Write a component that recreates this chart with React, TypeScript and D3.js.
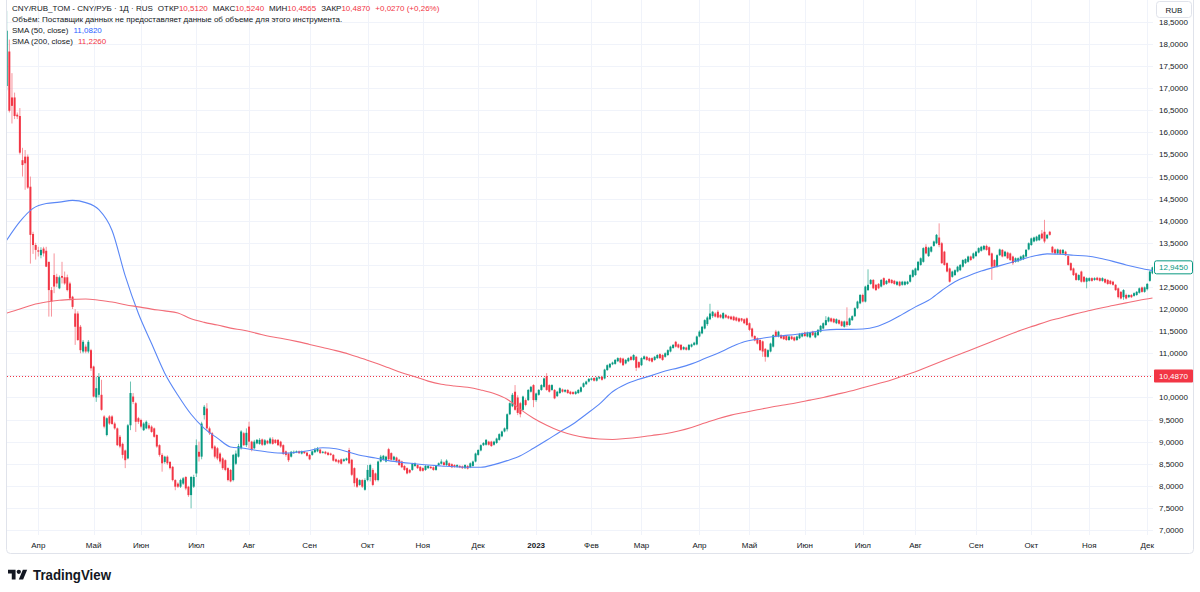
import React from "react";
import * as d3 from "d3";

// ---- Candles by month: [open, high, low, close] ----
const m2203 = [[17.05,18.75,16.95,18.3],[17.83,18.1,16.45,16.49],[16.79,17.34,16.2,16.6],[16.79,16.9,16.3,16.37],[16.4,16.45,16.3,16.36],[16.37,16.55,15.5,15.54],[15.37,15.65,15.0,15.26],[15.45,15.6,14.7,15.3],[15.45,15.5,14.72,14.75],[14.77,15.0,13.03,13.68],[13.7,13.75,13.25,13.45],[13.45,13.5,13.12,13.34]];
const m2204 = [[13.33,13.41,13.19,13.3],[13.22,13.4,13.15,13.34],[13.37,13.41,13.19,13.26],[13.32,13.41,12.95,12.96],[13.07,13.07,11.83,12.43],[12.43,12.5,11.83,12.17],[12.77,13.26,12.36,12.51],[12.73,12.8,12.5,12.58],[12.47,12.76,12.45,12.72],[12.75,13.07,12.58,12.71],[12.72,12.85,12.55,12.58],[12.72,12.78,12.4,12.43],[12.58,12.62,12.2,12.24],[12.28,12.3,12.0,12.05],[11.9,12.0,11.19,11.6],[11.9,11.95,11.28,11.3],[11.6,11.64,11.0,11.07],[11.04,11.3,11.0,11.26],[11.15,11.2,11.0,11.04],[11.04,11.3,11.0,11.26],[11.07,11.1,10.6,10.66]];
const m2205 = [[10.7,10.72,10.0,10.02],[10.0,10.47,9.9,10.21],[10.06,10.55,10.0,10.47],[10.06,10.4,9.7,9.72],[9.57,9.6,9.3,9.34],[9.15,9.55,9.12,9.53],[9.57,9.6,9.38,9.41],[9.57,9.6,9.38,9.4],[9.41,9.45,9.27,9.3],[9.3,9.32,8.9,8.92],[9.11,9.15,8.85,8.89],[8.95,8.98,8.62,8.7],[8.8,8.82,8.4,8.58],[8.62,9.4,8.6,9.37],[9.37,10.36,9.26,10.1],[10.02,10.1,9.85,9.9],[9.87,9.9,9.22,9.45],[9.53,9.56,9.4,9.45]];
const m2206 = [[9.49,9.52,9.3,9.34],[9.26,9.44,9.24,9.41],[9.3,9.48,9.28,9.45],[9.37,9.42,9.27,9.3],[9.34,9.37,9.2,9.22],[9.3,9.32,9.09,9.11],[9.15,9.17,8.86,8.89],[8.92,8.94,8.66,8.7],[8.7,8.74,8.32,8.51],[8.54,8.68,8.5,8.66],[8.66,8.69,8.47,8.51],[8.54,8.56,8.37,8.4],[8.43,8.45,8.1,8.13],[8.13,8.15,7.9,7.98],[8.05,8.08,7.95,7.98],[7.98,8.16,7.95,8.13],[8.05,8.2,8.02,8.17],[8.2,8.22,7.9,7.94],[7.98,8.0,7.75,7.79],[7.79,8.22,7.49,8.2],[7.98,8.25,7.95,8.2]];
const m2207 = [[8.28,9.05,8.2,8.92],[8.77,9.0,8.55,8.66],[8.66,9.45,8.6,9.41],[9.6,9.83,9.5,9.79],[9.75,9.87,9.27,9.3],[9.3,9.34,9.15,9.19],[9.19,9.22,8.82,8.85],[8.89,8.92,8.62,8.66],[8.85,8.88,8.58,8.62],[8.73,8.76,8.5,8.55],[8.62,8.65,8.36,8.4],[8.58,8.6,8.33,8.36],[8.4,8.42,8.1,8.13],[8.36,8.38,8.08,8.1],[8.13,8.72,8.1,8.7],[8.5,8.8,8.47,8.73],[8.66,8.95,8.64,8.9],[8.85,9.26,8.82,9.23],[9.19,9.22,8.9,8.92],[8.92,9.3,8.88,9.2]];
const m2208 = [[9.34,9.45,8.85,9.0],[9.0,9.02,8.78,8.81],[8.85,9.04,8.83,9.0],[8.96,9.06,8.94,9.04],[8.95,9.08,8.93,9.04],[9.05,9.07,8.9,8.93],[8.93,9.06,8.91,9.03],[9.02,9.04,8.94,8.96],[8.96,9.1,8.94,9.07],[9.05,9.1,8.93,8.95],[9.04,9.06,8.95,8.97],[9.04,9.06,8.9,8.92],[9.0,9.02,8.86,8.89],[8.92,8.94,8.7,8.72],[8.78,8.8,8.66,8.7],[8.73,8.75,8.54,8.58],[8.66,8.79,8.64,8.77],[8.74,8.8,8.72,8.77],[8.76,8.8,8.74,8.78],[8.78,8.8,8.72,8.74],[8.73,8.8,8.71,8.78],[8.78,8.79,8.72,8.74],[8.75,8.77,8.66,8.68]];
const m2209 = [[8.7,8.72,8.58,8.6],[8.7,8.8,8.68,8.78],[8.76,8.86,8.74,8.82],[8.78,8.88,8.76,8.84],[8.82,8.84,8.72,8.74],[8.75,8.79,8.73,8.77],[8.77,8.79,8.71,8.73],[8.75,8.77,8.68,8.7],[8.73,8.75,8.68,8.7],[8.7,8.72,8.55,8.57],[8.6,8.62,8.53,8.55],[8.58,8.6,8.5,8.53],[8.6,8.62,8.48,8.5],[8.56,8.62,8.54,8.6],[8.58,8.64,8.56,8.62],[8.81,8.86,8.49,8.51],[8.59,8.61,8.22,8.25],[8.4,8.42,7.98,8.06],[8.17,8.19,7.95,7.98],[8.02,8.15,8.0,8.13],[8.13,8.15,7.95,7.98],[7.91,8.17,7.89,8.13]];
const m2210 = [[8.13,8.47,8.1,8.36],[8.2,8.5,8.1,8.47],[8.36,8.4,7.99,8.02],[8.28,8.3,8.1,8.13],[8.13,8.57,8.1,8.55],[8.55,8.7,8.53,8.66],[8.59,8.7,8.57,8.68],[8.55,8.68,8.53,8.66],[8.83,8.86,8.58,8.6],[8.74,8.76,8.57,8.59],[8.59,8.68,8.57,8.66],[8.64,8.66,8.53,8.55],[8.59,8.61,8.45,8.47],[8.55,8.57,8.4,8.42],[8.45,8.47,8.34,8.36],[8.4,8.42,8.26,8.28],[8.36,8.38,8.28,8.3],[8.36,8.52,8.34,8.5],[8.45,8.53,8.43,8.51],[8.47,8.49,8.38,8.4],[8.43,8.45,8.32,8.34]];
const m2211 = [[8.4,8.42,8.32,8.34],[8.36,8.47,8.34,8.45],[8.4,8.47,8.38,8.45],[8.43,8.45,8.38,8.4],[8.42,8.44,8.34,8.36],[8.36,8.47,8.34,8.45],[8.47,8.53,8.45,8.51],[8.5,8.6,8.48,8.55],[8.53,8.55,8.45,8.47],[8.47,8.6,8.45,8.57],[8.51,8.53,8.43,8.45],[8.49,8.51,8.4,8.42],[8.47,8.49,8.41,8.43],[8.43,8.49,8.41,8.47],[8.45,8.47,8.4,8.42],[8.44,8.46,8.38,8.4],[8.4,8.49,8.38,8.47],[8.45,8.47,8.37,8.39],[8.42,8.53,8.4,8.51],[8.45,8.57,8.43,8.55],[8.55,8.75,8.53,8.73]];
const m2212 = [[8.7,8.83,8.68,8.81],[8.8,8.94,8.78,8.92],[8.92,8.99,8.9,8.97],[8.93,9.06,8.91,9.04],[9.0,9.02,8.91,8.93],[9.0,9.02,8.88,8.9],[8.93,9.02,8.91,9.0],[8.97,9.09,8.95,9.07],[9.04,9.19,9.02,9.17],[9.12,9.25,9.1,9.23],[9.23,9.32,9.21,9.3],[9.28,9.64,9.23,9.62],[9.62,9.89,9.6,9.87],[9.8,10.1,9.78,10.06],[10.13,10.28,9.7,9.72],[10.0,10.05,9.6,9.65],[9.87,9.9,9.55,9.62],[9.72,10.04,9.7,10.02],[9.94,9.98,9.8,9.83],[9.94,10.19,9.92,10.17],[10.13,10.26,10.11,10.24],[10.28,10.3,9.78,9.94]];
const m2301 = [[9.94,10.11,9.9,10.09],[10.06,10.19,10.04,10.17],[10.17,10.3,10.15,10.28],[10.24,10.45,10.22,10.43],[10.48,10.55,10.15,10.17],[10.28,10.3,10.11,10.13],[10.17,10.3,10.15,10.28],[10.17,10.19,9.96,9.98],[10.03,10.15,10.01,10.13],[10.1,10.23,10.08,10.21],[10.18,10.2,10.11,10.13],[10.13,10.19,10.11,10.17],[10.17,10.19,10.08,10.1],[10.13,10.15,10.06,10.08],[10.12,10.14,10.06,10.08],[10.08,10.15,10.06,10.13],[10.1,10.19,10.08,10.17],[10.13,10.25,10.11,10.23],[10.24,10.34,10.22,10.32],[10.3,10.38,10.28,10.36],[10.36,10.44,10.34,10.42]];
const m2302 = [[10.4,10.45,10.38,10.43],[10.44,10.46,10.36,10.38],[10.38,10.47,10.36,10.45],[10.43,10.48,10.41,10.46],[10.47,10.49,10.38,10.4],[10.43,10.65,10.41,10.63],[10.62,10.75,10.6,10.73],[10.68,10.78,10.66,10.76],[10.75,10.81,10.73,10.79],[10.76,10.87,10.74,10.85],[10.82,10.91,10.8,10.89],[10.89,10.91,10.77,10.79],[10.88,10.9,10.71,10.73],[10.77,10.87,10.75,10.85],[10.82,10.91,10.8,10.89],[10.92,10.94,10.83,10.85],[10.85,10.98,10.83,10.96],[10.92,10.94,10.6,10.67],[10.8,10.82,10.66,10.68]];
const m2303 = [[10.73,10.91,10.71,10.89],[10.87,10.95,10.85,10.93],[10.92,10.94,10.83,10.85],[10.89,10.91,10.81,10.83],[10.89,10.91,10.79,10.81],[10.85,10.94,10.83,10.92],[10.89,10.98,10.87,10.96],[10.98,11.0,10.87,10.89],[10.96,10.98,10.83,10.85],[10.92,11.02,10.9,11.0],[10.96,11.09,10.94,11.07],[11.04,11.17,11.02,11.15],[11.12,11.21,11.1,11.19],[11.26,11.28,11.13,11.15],[11.2,11.22,11.11,11.13],[11.19,11.21,11.06,11.08],[11.09,11.16,11.07,11.14],[11.13,11.15,11.06,11.08],[11.08,11.21,11.06,11.19],[11.15,11.22,11.13,11.2],[11.19,11.26,11.17,11.24],[11.2,11.4,11.18,11.38]];
const m2304 = [[11.38,11.52,11.36,11.49],[11.45,11.62,11.43,11.6],[11.56,11.77,11.54,11.75],[11.66,11.84,11.62,11.81],[11.77,12.12,11.75,11.9],[11.84,11.96,11.8,11.94],[11.9,11.93,11.81,11.83],[11.94,11.98,11.79,11.81],[11.87,11.89,11.79,11.81],[11.79,11.93,11.77,11.91],[11.87,11.89,11.79,11.81],[11.84,11.86,11.77,11.79],[11.83,11.85,11.75,11.77],[11.83,11.85,11.73,11.75],[11.81,11.83,11.72,11.74],[11.79,11.81,11.7,11.72],[11.79,11.8,11.71,11.74],[11.77,11.79,11.66,11.68],[11.79,11.81,11.62,11.64]];
const m2305 = [[11.68,11.7,11.5,11.53],[11.56,11.58,11.34,11.38],[11.39,11.41,11.27,11.29],[11.34,11.36,11.2,11.22],[11.3,11.32,11.05,11.07],[11.27,11.29,10.92,11.04],[11.1,11.12,10.81,10.92],[10.92,11.09,10.9,11.07],[11.04,11.24,11.02,11.22],[11.15,11.43,11.13,11.41],[11.49,11.53,11.36,11.38],[11.38,11.51,11.36,11.49],[11.41,11.43,11.32,11.34],[11.39,11.41,11.3,11.32],[11.39,11.41,11.28,11.3],[11.3,11.4,11.28,11.38],[11.38,11.4,11.3,11.32],[11.36,11.38,11.27,11.29],[11.3,11.4,11.28,11.38],[11.34,11.46,11.32,11.44],[11.38,11.47,11.36,11.45]];
const m2306 = [[11.47,11.49,11.37,11.39],[11.38,11.49,11.36,11.47],[11.36,11.49,11.34,11.47],[11.49,11.51,11.39,11.41],[11.36,11.49,11.34,11.47],[11.41,11.55,11.39,11.53],[11.49,11.64,11.47,11.62],[11.56,11.7,11.54,11.68],[11.64,11.84,11.62,11.75],[11.72,11.83,11.7,11.81],[11.79,11.81,11.7,11.72],[11.78,11.8,11.68,11.7],[11.68,11.79,11.66,11.77],[11.75,11.77,11.65,11.67],[11.72,11.74,11.6,11.62],[11.6,11.74,11.58,11.72],[11.72,12.04,11.6,11.64],[11.64,11.81,11.62,11.79],[11.75,11.86,11.73,11.84],[11.84,12.04,11.82,12.02],[12.02,12.19,12.0,12.17],[12.13,12.34,12.11,12.32]];
const m2307 = [[12.32,12.35,12.15,12.17],[12.17,12.53,12.15,12.51],[12.43,12.9,12.41,12.55],[12.57,12.68,12.55,12.66],[12.66,12.68,12.45,12.47],[12.55,12.57,12.41,12.43],[12.57,12.59,12.45,12.47],[12.51,12.68,12.49,12.66],[12.7,12.72,12.53,12.55],[12.57,12.66,12.55,12.64],[12.68,12.7,12.58,12.6],[12.66,12.68,12.57,12.59],[12.64,12.66,12.55,12.57],[12.55,12.64,12.53,12.62],[12.62,12.64,12.51,12.53],[12.55,12.64,12.53,12.62],[12.55,12.64,12.53,12.62],[12.57,12.64,12.55,12.62],[12.62,12.79,12.6,12.77],[12.73,12.9,12.71,12.88]];
const m2308 = [[12.77,12.94,12.75,12.92],[12.88,13.09,12.86,13.07],[13.0,13.17,12.98,13.15],[13.07,13.4,13.05,13.38],[13.41,13.47,13.24,13.26],[13.2,13.41,13.18,13.39],[13.3,13.43,13.28,13.41],[13.43,13.55,13.41,13.53],[13.49,13.7,13.47,13.68],[13.62,13.94,13.4,13.45],[13.49,13.52,13.02,13.04],[13.3,13.32,12.98,13.0],[13.04,13.06,12.83,12.85],[12.92,12.94,12.6,12.62],[12.73,12.87,12.71,12.85],[12.77,12.9,12.75,12.88],[12.85,12.98,12.83,12.96],[12.88,13.02,12.86,13.0],[12.96,13.13,12.94,13.11],[13.04,13.15,13.02,13.13],[13.07,13.21,13.05,13.19],[13.19,13.21,13.09,13.11],[13.15,13.28,13.13,13.26]];
const m2309 = [[13.2,13.32,13.18,13.3],[13.28,13.4,13.26,13.38],[13.32,13.43,13.3,13.41],[13.35,13.45,13.33,13.43],[13.43,13.46,13.32,13.34],[13.4,13.42,13.2,13.22],[13.26,13.28,12.66,12.96],[13.11,13.13,12.94,12.96],[12.96,13.24,12.94,13.22],[13.22,13.37,13.2,13.35],[13.34,13.36,13.17,13.19],[13.2,13.32,13.18,13.3],[13.28,13.3,13.13,13.15],[13.26,13.28,13.09,13.11],[13.19,13.21,13.0,13.04],[13.07,13.17,13.05,13.15],[13.08,13.17,13.06,13.15],[13.11,13.21,13.09,13.19],[13.13,13.24,13.11,13.22],[13.19,13.36,13.17,13.34],[13.35,13.51,13.33,13.49]];
const m2310 = [[13.45,13.62,13.43,13.6],[13.53,13.64,13.51,13.62],[13.55,13.66,13.53,13.64],[13.56,13.7,13.54,13.68],[13.71,13.79,13.58,13.6],[13.75,14.02,13.49,13.53],[13.6,13.7,13.58,13.68],[13.75,13.77,13.66,13.68],[13.41,13.43,13.26,13.28],[13.35,13.37,13.24,13.26],[13.26,13.37,13.24,13.35],[13.34,13.36,13.23,13.25],[13.26,13.36,13.24,13.34],[13.3,13.32,13.2,13.22],[13.2,13.22,12.98,13.0],[13.04,13.06,12.86,12.88],[12.92,12.94,12.75,12.77],[12.81,12.83,12.64,12.66],[12.66,12.79,12.64,12.77],[12.85,12.87,12.6,12.62],[12.73,12.75,12.6,12.62],[12.62,12.72,12.47,12.7]];
const m2311 = [[12.64,12.72,12.62,12.7],[12.7,12.72,12.62,12.64],[12.66,12.72,12.64,12.7],[12.71,12.73,12.64,12.66],[12.7,12.72,12.62,12.64],[12.64,12.72,12.62,12.7],[12.68,12.7,12.58,12.6],[12.66,12.68,12.55,12.57],[12.64,12.66,12.55,12.57],[12.62,12.64,12.53,12.55],[12.55,12.57,12.41,12.43],[12.47,12.49,12.24,12.27],[12.39,12.41,12.22,12.24],[12.27,12.45,12.21,12.43],[12.32,12.35,12.22,12.24],[12.27,12.33,12.25,12.32],[12.32,12.34,12.25,12.27],[12.3,12.38,12.28,12.36],[12.32,12.41,12.3,12.39],[12.37,12.49,12.35,12.47],[12.49,12.51,12.37,12.39],[12.39,12.51,12.37,12.49]];
const m2312 = [[12.45,12.59,12.42,12.57],[12.64,12.87,12.62,12.85],[12.81,12.96,12.79,12.945]];

const months = [m2203, m2204, m2205, m2206, m2207, m2208, m2209, m2210, m2211, m2212, m2301, m2302, m2303, m2304, m2305, m2306, m2307, m2308, m2309, m2310, m2311, m2312];
const monthLabels = ["Апр","Май","Июн","Июл","Авг","Сен","Окт","Ноя","Дек","2023","Фев","Мар","Апр","Май","Июн","Июл","Авг","Сен","Окт","Ноя","Дек"];

// SMA values read every 5th bar (bar 0, 5, 10, ... 435)
const sma50 = [13.56,13.98,14.28,14.39,14.42,14.46,14.41,14.25,13.78,12.75,11.9,11.22,10.55,10.05,9.62,9.3,9.08,8.88,8.85,8.8,8.76,8.74,8.76,8.8,8.86,8.84,8.76,8.68,8.63,8.57,8.53,8.5,8.47,8.45,8.43,8.42,8.42,8.48,8.57,8.68,8.85,9.03,9.22,9.4,9.62,9.85,10.13,10.3,10.41,10.5,10.6,10.67,10.76,10.88,11.0,11.14,11.26,11.32,11.37,11.4,11.43,11.47,11.52,11.54,11.54,11.55,11.6,11.72,11.88,12.05,12.2,12.42,12.62,12.75,12.86,12.95,13.03,13.12,13.2,13.25,13.24,13.22,13.2,13.15,13.08,13.0,12.93,12.87];
const sma200 = [11.91,12.0,12.1,12.16,12.2,12.22,12.23,12.2,12.16,12.1,12.05,12.0,11.96,11.91,11.78,11.7,11.64,11.57,11.52,11.45,11.38,11.33,11.27,11.2,11.13,11.06,10.98,10.88,10.78,10.67,10.56,10.47,10.37,10.3,10.26,10.23,10.17,10.09,9.96,9.73,9.53,9.37,9.24,9.15,9.09,9.06,9.05,9.07,9.1,9.14,9.18,9.24,9.32,9.42,9.52,9.6,9.66,9.72,9.78,9.83,9.88,9.94,10.0,10.07,10.14,10.22,10.3,10.38,10.48,10.58,10.7,10.82,10.94,11.05,11.17,11.29,11.41,11.52,11.62,11.72,11.8,11.88,11.95,12.02,12.08,12.14,12.2,12.25];
const smaStep = 5;

const priceTicks = [7,7.5,8,8.5,9,9.5,10,10.5,11,11.5,12,12.5,13,13.5,14,14.5,15,15.5,16,16.5,17,17.5,18,18.5];
const refPrice = 10.487;
const legendOHLC = ["10,5120","10,5240","10,4565","10,4870"];
const legendChange = "+0,0270 (+0,26%)";
const legendSma = ["11,0820","11,2260"];

const UP = "#089981", DOWN = "#f23645";
const UP_WICK = "#6cc3b3", DOWN_WICK = "#f7949c";
const FONT = "'Liberation Sans', Arial, sans-serif";
const TXT = "#131722";
const FS = 8;

const fmt = (v: number) => d3.format(".4f")(v).replace(".", ",");

export default function App() {
  const candles = months.flat().map((d, i) => ({ i, o: d[0], h: d[1], l: d[2], c: d[3] }));
  const n = candles.length;
  const monthStarts: number[] = [];
  let acc = 0;
  months.forEach((m, k) => { if (k > 0) monthStarts.push(acc); acc += m.length; });

  const plotL = 7, plotR = 1153, plotB = 535;
  const x = d3.scaleLinear().domain([0, n - 1]).range([6.7, 6.7 + 2.634 * (n - 1)]);
  const y = d3.scaleLinear().domain([7, 18]).range([530, 44]);

  const line = d3.line<number[]>().x(d => x(d[0])).y(d => y(d[1])).curve(d3.curveMonotoneX);
  const s50 = sma50.map((v, k) => [Math.min(k * smaStep, n - 1), v]);
  const s200 = sma200.map((v, k) => [Math.min(k * smaStep, n - 1), v]);
  const last = candles[n - 1].c;
  // price labels hidden under the floating price boxes (as the chart does)
  const visibleTicks = priceTicks.filter(t => Math.abs(y(t) - y(last)) > 9 && Math.abs(y(t) - y(refPrice)) > 9);

  return (
    <div style={{ position: "fixed", left: 0, top: 0 }}>
      <svg width={1200} height={592} style={{ display: "block", background: "#fff" }} fontFamily={FONT}>
        <defs>
          <clipPath id="plot"><rect x={plotL} y={0} width={plotR - plotL} height={plotB} /></clipPath>
          <clipPath id="axisTop"><rect x={1153} y={19} width={47} height={540} /></clipPath>
        </defs>
        {/* grid */}
        <g stroke="#f0f3fa" strokeWidth={1}>
          {priceTicks.map(t => <line key={"h" + t} x1={plotL} x2={plotR} y1={Math.round(y(t)) + 0.5} y2={Math.round(y(t)) + 0.5} />)}
          {monthStarts.map(b => <line key={"v" + b} x1={Math.round(x(b)) + 0.5} x2={Math.round(x(b)) + 0.5} y1={0} y2={plotB} />)}
        </g>
        {/* frame */}
        <path d="M6.5,-5 V549.5 Q6.5,553.5 10.5,553.5 H1189.5 Q1193.5,553.5 1193.5,549.5 V-5" fill="none" stroke="#e0e3eb" />
        <g clipPath="url(#plot)">
          <line x1={plotL} x2={plotR} y1={Math.round(y(refPrice)) + 0.5} y2={Math.round(y(refPrice)) + 0.5} stroke={DOWN} strokeDasharray="1 2" strokeWidth={1} />
          {candles.map(d => {
            const up = d.c >= d.o;
            const cx = x(d.i);
            const top = y(Math.max(d.o, d.c));
            const h = Math.max(1, Math.abs(y(d.o) - y(d.c)));
            return (
              <g key={d.i}>
                <line x1={cx} x2={cx} y1={y(d.h)} y2={y(d.l)} stroke={up ? UP_WICK : DOWN_WICK} strokeWidth={1} />
                <rect x={cx - 1} y={top} width={2} height={h} fill={up ? UP : DOWN} />
              </g>
            );
          })}
          <path d={line(s50) || ""} fill="none" stroke="#5a87f6" strokeWidth={1.1} />
          <path d={line(s200) || ""} fill="none" stroke="#f26d78" strokeWidth={1.1} />
        </g>
        {/* price axis */}
        <g fontSize={FS} fill={TXT} clipPath="url(#axisTop)">
          {visibleTicks.map(t => <text key={"p" + t} x={1159} y={y(t) + 3}>{fmt(t)}</text>)}
        </g>
        <rect x={1154.5} y={y(last) - 6.5} width={38} height={13} rx={2} fill="#fff" stroke={UP} />
        <text x={1159} y={y(last) + 3} fontSize={FS} fill={UP}>{fmt(last)}</text>
        <rect x={1154} y={y(refPrice) - 6.5} width={39} height={13} rx={1} fill={DOWN} />
        <text x={1159} y={y(refPrice) + 3} fontSize={FS} fill="#fff">{fmt(refPrice)}</text>
        <rect x={1156.5} y={1.5} width={35} height={16} rx={3} fill="#fff" stroke="#e0e3eb" />
        <text x={1174} y={12.5} fontSize={FS} fill={TXT} textAnchor="middle">RUB</text>
        {/* time axis */}
        <g fontSize={FS} fill={TXT} textAnchor="middle">
          {monthStarts.map((b, k) => (
            <text key={"m" + k} x={x(b)} y={548} fontWeight={monthLabels[k] === "2023" ? 700 : 400}>{monthLabels[k]}</text>
          ))}
        </g>
        {/* legend */}
        <g fontSize={FS} fill={TXT}>
          <text x={12} y={10.5}>
            <tspan>CNY/RUB_TOM - CNY/РУБ · 1Д · RUS</tspan>
            <tspan dx={5}>ОТКР</tspan><tspan fill={DOWN}>{legendOHLC[0]}</tspan>
            <tspan dx={5}>МАКС</tspan><tspan fill={DOWN}>{legendOHLC[1]}</tspan>
            <tspan dx={5}>МИН</tspan><tspan fill={DOWN}>{legendOHLC[2]}</tspan>
            <tspan dx={5}>ЗАКР</tspan><tspan fill={DOWN}>{legendOHLC[3]}</tspan>
            <tspan dx={5} fill={DOWN}>{legendChange}</tspan>
          </text>
          <text x={12} y={21.5}>Объём: Поставщик данных не предоставляет данные об объеме для этого инструмента.</text>
          <text x={12} y={32.5}><tspan>SMA (50, close)</tspan><tspan dx={5} fill="#2962ff">{legendSma[0]}</tspan></text>
          <text x={12} y={44}><tspan>SMA (200, close)</tspan><tspan dx={5} fill={DOWN}>{legendSma[1]}</tspan></text>
        </g>
        {/* logo */}
        <g transform="translate(8,567.5) scale(0.54)" fill={TXT}>
          <path d="M14 22H7V11H0V4h14v18z" />
          <circle cx={20} cy={8} r={4} />
          <path d="M28 22h-8l7.5-18h8L28 22z" />
        </g>
        <text x={33} y={580} fontSize={15.5} fontWeight={700} fill={TXT} textLength={78} lengthAdjust="spacingAndGlyphs">TradingView</text>
      </svg>
    </div>
  );
}
